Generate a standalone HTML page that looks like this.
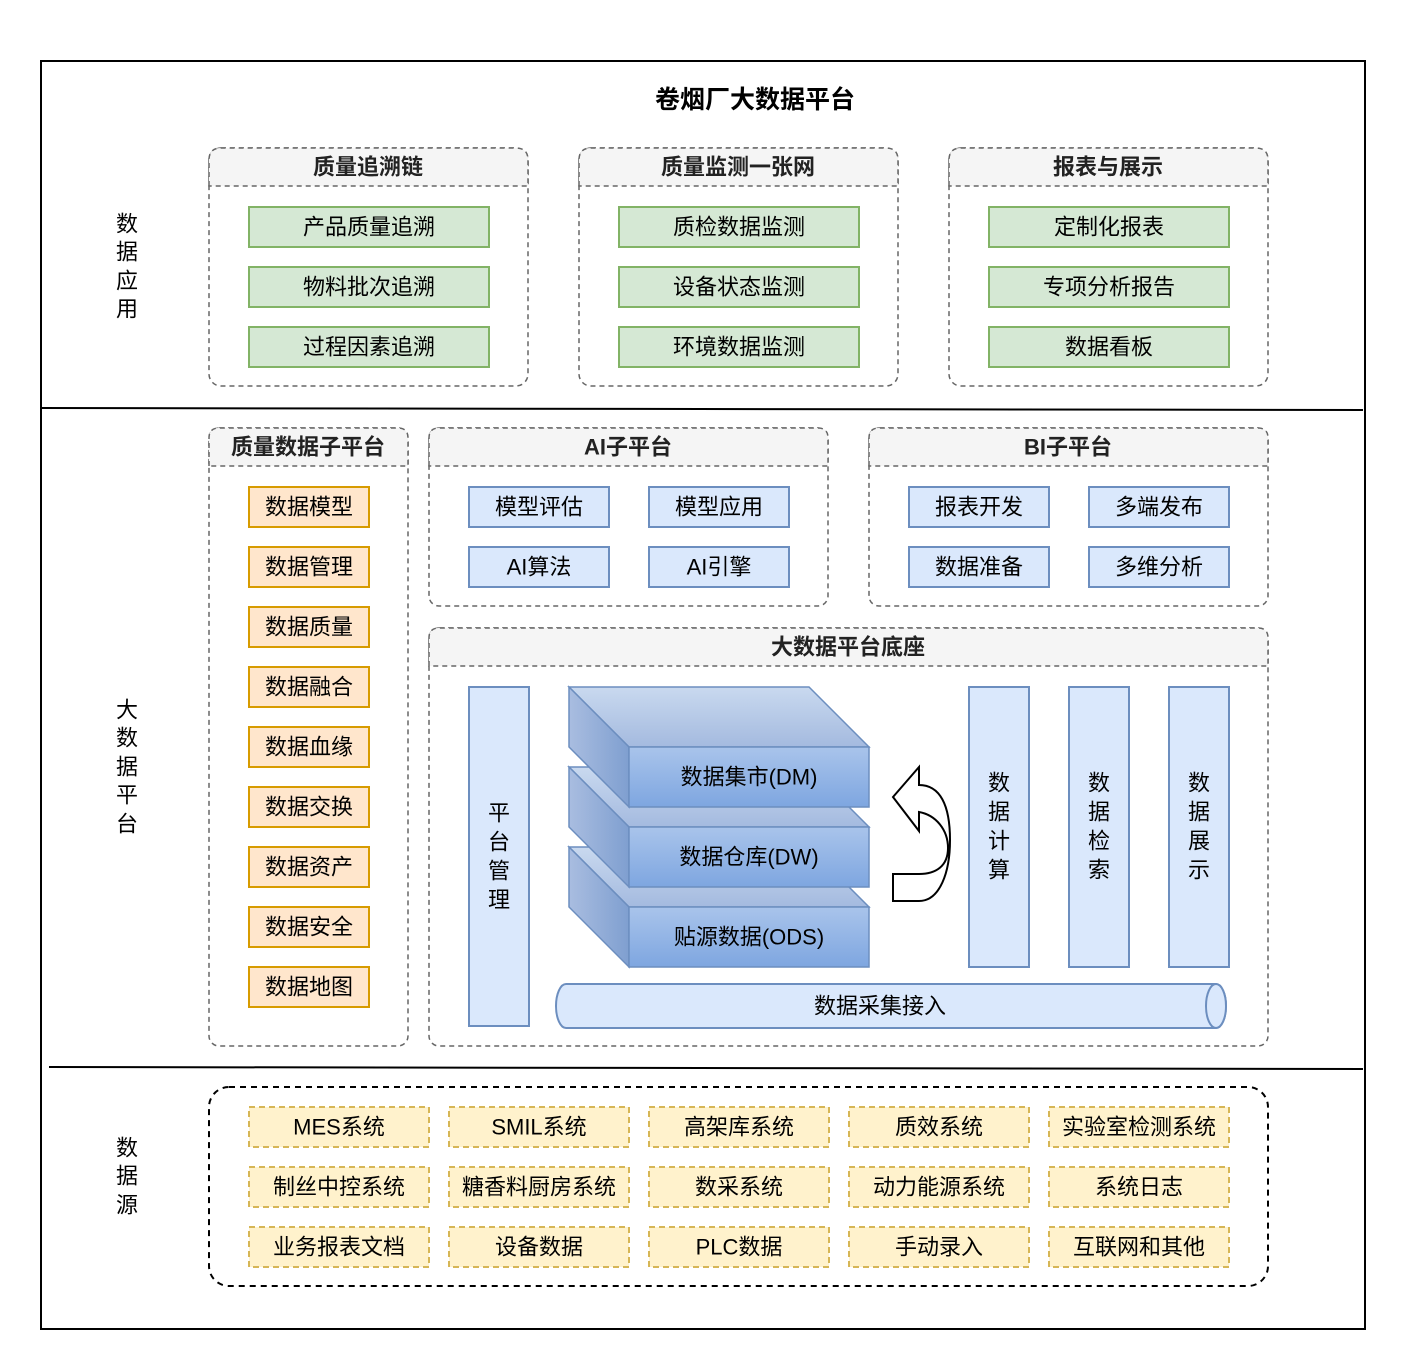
<!DOCTYPE html>
<html><head><meta charset="utf-8"><style>
html,body{margin:0;padding:0;background:#fff;}
svg{display:block;}
text{font-family:"Liberation Sans","Noto Sans CJK SC",sans-serif;fill:#000;}
.t{font-size:22px;text-anchor:middle;dominant-baseline:central;}
.h{font-size:22px;font-weight:bold;text-anchor:middle;dominant-baseline:central;fill:#222;}
.g{fill:#d5e8d4;stroke:#82b366;stroke-width:2;}
.o{fill:#ffe6cc;stroke:#d79b00;stroke-width:2;}
.b{fill:#dae8fc;stroke:#6c8ebf;stroke-width:2;}
.y{fill:#fff2cc;stroke:#d6b656;stroke-width:2;stroke-dasharray:6 4;}
.grp{fill:#fff;stroke:#666;stroke-width:1.5;stroke-dasharray:5 4;}
.hd{fill:#f5f5f5;stroke:#666;stroke-width:1.5;stroke-dasharray:5 4;}
</style></head><body>
<svg width="1406" height="1370" viewBox="0 0 1406 1370" xmlns="http://www.w3.org/2000/svg">
<defs>
<linearGradient id="tg" x1="0" y1="0" x2="0" y2="1"><stop offset="0" stop-color="#c9d9ef"/><stop offset="1" stop-color="#a4badf"/></linearGradient>
<linearGradient id="fg" x1="0" y1="0" x2="0" y2="1"><stop offset="0" stop-color="#a9c4eb"/><stop offset="1" stop-color="#7ea6e0"/></linearGradient>
<linearGradient id="lg" x1="0" y1="0" x2="1" y2="0"><stop offset="0" stop-color="#a9bde0"/><stop offset="1" stop-color="#7f9fd0"/></linearGradient>
</defs>
<rect x="41" y="61" width="1324" height="1268" fill="none" stroke="#000" stroke-width="2"/>
<line x1="41" y1="408" x2="1363" y2="410" stroke="#000" stroke-width="2"/>
<line x1="49" y1="1067" x2="1363" y2="1069" stroke="#000" stroke-width="2"/>
<text x="755" y="100" class="h" style="font-size:25px;fill:#000">卷烟厂大数据平台</text>

<text x="127" y="224" class="t">数</text><text x="127" y="252" class="t">据</text><text x="127" y="281" class="t">应</text><text x="127" y="309" class="t">用</text>
<text x="127" y="710" class="t">大</text><text x="127" y="738" class="t">数</text><text x="127" y="767" class="t">据</text><text x="127" y="795" class="t">平</text><text x="127" y="824" class="t">台</text>
<text x="127" y="1148" class="t">数</text><text x="127" y="1176" class="t">据</text><text x="127" y="1205" class="t">源</text>

<rect x="209" y="148" width="319" height="238" rx="12" class="grp"/>
<path d="M209,186 V160 Q209,148 221,148 H516 Q528,148 528,160 V186 Z" class="hd"/>
<text x="368" y="167" class="h">质量追溯链</text>
<rect x="249" y="207" width="240" height="40" class="g"/><text x="369" y="227" class="t">产品质量追溯</text>
<rect x="249" y="267" width="240" height="40" class="g"/><text x="369" y="287" class="t">物料批次追溯</text>
<rect x="249" y="327" width="240" height="40" class="g"/><text x="369" y="347" class="t">过程因素追溯</text>

<rect x="579" y="148" width="319" height="238" rx="12" class="grp"/>
<path d="M579,186 V160 Q579,148 591,148 H886 Q898,148 898,160 V186 Z" class="hd"/>
<text x="738" y="167" class="h">质量监测一张网</text>
<rect x="619" y="207" width="240" height="40" class="g"/><text x="739" y="227" class="t">质检数据监测</text>
<rect x="619" y="267" width="240" height="40" class="g"/><text x="739" y="287" class="t">设备状态监测</text>
<rect x="619" y="327" width="240" height="40" class="g"/><text x="739" y="347" class="t">环境数据监测</text>

<rect x="949" y="148" width="319" height="238" rx="12" class="grp"/>
<path d="M949,186 V160 Q949,148 961,148 H1256 Q1268,148 1268,160 V186 Z" class="hd"/>
<text x="1108" y="167" class="h">报表与展示</text>
<rect x="989" y="207" width="240" height="40" class="g"/><text x="1109" y="227" class="t">定制化报表</text>
<rect x="989" y="267" width="240" height="40" class="g"/><text x="1109" y="287" class="t">专项分析报告</text>
<rect x="989" y="327" width="240" height="40" class="g"/><text x="1109" y="347" class="t">数据看板</text>

<rect x="209" y="428" width="199" height="618" rx="10" class="grp"/>
<path d="M209,466 V438 Q209,428 219,428 H398 Q408,428 408,438 V466 Z" class="hd"/>
<text x="308" y="447" class="h">质量数据子平台</text>
<rect x="249" y="487" width="120" height="40" class="o"/><text x="309" y="507" class="t">数据模型</text>
<rect x="249" y="547" width="120" height="40" class="o"/><text x="309" y="567" class="t">数据管理</text>
<rect x="249" y="607" width="120" height="40" class="o"/><text x="309" y="627" class="t">数据质量</text>
<rect x="249" y="667" width="120" height="40" class="o"/><text x="309" y="687" class="t">数据融合</text>
<rect x="249" y="727" width="120" height="40" class="o"/><text x="309" y="747" class="t">数据血缘</text>
<rect x="249" y="787" width="120" height="40" class="o"/><text x="309" y="807" class="t">数据交换</text>
<rect x="249" y="847" width="120" height="40" class="o"/><text x="309" y="867" class="t">数据资产</text>
<rect x="249" y="907" width="120" height="40" class="o"/><text x="309" y="927" class="t">数据安全</text>
<rect x="249" y="967" width="120" height="40" class="o"/><text x="309" y="987" class="t">数据地图</text>

<rect x="429" y="428" width="399" height="178" rx="10" class="grp"/>
<path d="M429,466 V438 Q429,428 439,428 H818 Q828,428 828,438 V466 Z" class="hd"/>
<text x="628" y="447" class="h">AI子平台</text>
<rect x="469" y="487" width="140" height="40" class="b"/><text x="539" y="507" class="t">模型评估</text>
<rect x="649" y="487" width="140" height="40" class="b"/><text x="719" y="507" class="t">模型应用</text>
<rect x="469" y="547" width="140" height="40" class="b"/><text x="539" y="567" class="t">AI算法</text>
<rect x="649" y="547" width="140" height="40" class="b"/><text x="719" y="567" class="t">AI引擎</text>

<rect x="869" y="428" width="399" height="178" rx="10" class="grp"/>
<path d="M869,466 V438 Q869,428 879,428 H1258 Q1268,428 1268,438 V466 Z" class="hd"/>
<text x="1068" y="447" class="h">BI子平台</text>
<rect x="909" y="487" width="140" height="40" class="b"/><text x="979" y="507" class="t">报表开发</text>
<rect x="1089" y="487" width="140" height="40" class="b"/><text x="1159" y="507" class="t">多端发布</text>
<rect x="909" y="547" width="140" height="40" class="b"/><text x="979" y="567" class="t">数据准备</text>
<rect x="1089" y="547" width="140" height="40" class="b"/><text x="1159" y="567" class="t">多维分析</text>

<rect x="429" y="628" width="839" height="418" rx="10" class="grp"/>
<path d="M429,666 V638 Q429,628 439,628 H1258 Q1268,628 1268,638 V666 Z" class="hd"/>
<text x="848" y="647" class="h">大数据平台底座</text>

<rect x="469" y="687" width="60" height="339" class="b"/>
<text x="499" y="813" class="t">平</text><text x="499" y="842" class="t">台</text><text x="499" y="871" class="t">管</text><text x="499" y="900" class="t">理</text>

<g stroke="#6c8ebf" stroke-width="1.5">
<polygon points="569,847 809,847 869,907 629,907" fill="url(#tg)"/>
<polygon points="569,847 629,907 629,967 569,907" fill="url(#lg)"/>
<rect x="629" y="907" width="240" height="60" fill="url(#fg)"/>
<polygon points="569,767 809,767 869,827 629,827" fill="url(#tg)"/>
<polygon points="569,767 629,827 629,887 569,827" fill="url(#lg)"/>
<rect x="629" y="827" width="240" height="60" fill="url(#fg)"/>
<polygon points="569,687 809,687 869,747 629,747" fill="url(#tg)"/>
<polygon points="569,687 629,747 629,807 569,747" fill="url(#lg)"/>
<rect x="629" y="747" width="240" height="60" fill="url(#fg)"/>
</g>
<text x="749" y="777" class="t">数据集市(DM)</text>
<text x="749" y="857" class="t">数据仓库(DW)</text>
<text x="749" y="937" class="t">贴源数据(ODS)</text>

<path d="M919,767 L893,797 L919,831 L919,812 C936,815 948,830 948,848 C948,866 936,874 919,874 L893,874 L893,901 L919,901 C940,901 950,872 950,840 C950,805 940,785 919,785 Z" fill="#fff" stroke="#000" stroke-width="2"/>

<rect x="969" y="687" width="60" height="280" class="b"/>
<text x="999" y="783" class="t">数</text><text x="999" y="812" class="t">据</text><text x="999" y="841" class="t">计</text><text x="999" y="870" class="t">算</text>
<rect x="1069" y="687" width="60" height="280" class="b"/>
<text x="1099" y="783" class="t">数</text><text x="1099" y="812" class="t">据</text><text x="1099" y="841" class="t">检</text><text x="1099" y="870" class="t">索</text>
<rect x="1169" y="687" width="60" height="280" class="b"/>
<text x="1199" y="783" class="t">数</text><text x="1199" y="812" class="t">据</text><text x="1199" y="841" class="t">展</text><text x="1199" y="870" class="t">示</text>

<path d="M566,984 H1216 A10,22 0 0 1 1216,1028 H566 A10,22 0 0 1 566,984 Z" class="b"/>
<ellipse cx="1216" cy="1006" rx="10" ry="22" class="b"/>
<text x="880" y="1006" class="t">数据采集接入</text>

<rect x="209" y="1087" width="1059" height="199" rx="20" fill="none" stroke="#000" stroke-width="2" style="stroke-dasharray:6 5"/>
<rect x="249" y="1107" width="180" height="40" class="y"/><text x="339" y="1127" class="t">MES系统</text>
<rect x="449" y="1107" width="180" height="40" class="y"/><text x="539" y="1127" class="t">SMIL系统</text>
<rect x="649" y="1107" width="180" height="40" class="y"/><text x="739" y="1127" class="t">高架库系统</text>
<rect x="849" y="1107" width="180" height="40" class="y"/><text x="939" y="1127" class="t">质效系统</text>
<rect x="1049" y="1107" width="180" height="40" class="y"/><text x="1139" y="1127" class="t">实验室检测系统</text>
<rect x="249" y="1167" width="180" height="40" class="y"/><text x="339" y="1187" class="t">制丝中控系统</text>
<rect x="449" y="1167" width="180" height="40" class="y"/><text x="539" y="1187" class="t">糖香料厨房系统</text>
<rect x="649" y="1167" width="180" height="40" class="y"/><text x="739" y="1187" class="t">数采系统</text>
<rect x="849" y="1167" width="180" height="40" class="y"/><text x="939" y="1187" class="t">动力能源系统</text>
<rect x="1049" y="1167" width="180" height="40" class="y"/><text x="1139" y="1187" class="t">系统日志</text>
<rect x="249" y="1227" width="180" height="40" class="y"/><text x="339" y="1247" class="t">业务报表文档</text>
<rect x="449" y="1227" width="180" height="40" class="y"/><text x="539" y="1247" class="t">设备数据</text>
<rect x="649" y="1227" width="180" height="40" class="y"/><text x="739" y="1247" class="t">PLC数据</text>
<rect x="849" y="1227" width="180" height="40" class="y"/><text x="939" y="1247" class="t">手动录入</text>
<rect x="1049" y="1227" width="180" height="40" class="y"/><text x="1139" y="1247" class="t">互联网和其他</text>
</svg>
</body></html>
